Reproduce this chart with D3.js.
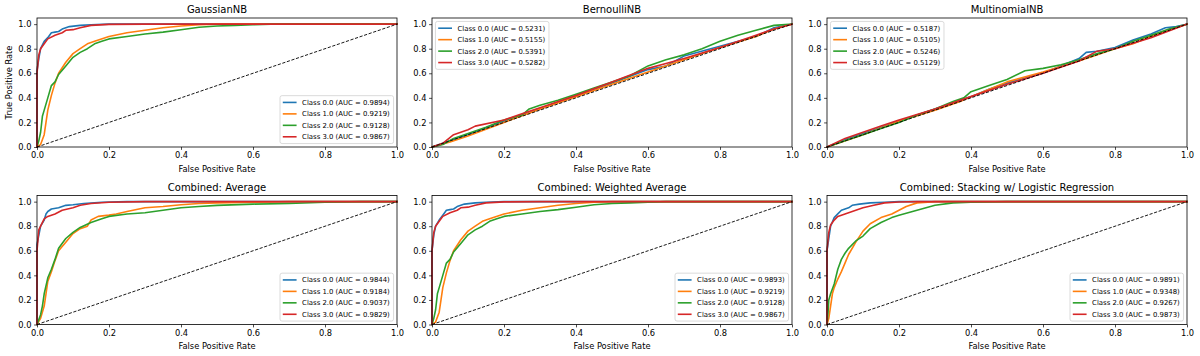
<!DOCTYPE html>
<html><head><meta charset="utf-8">
<script src="https://cdn.jsdelivr.net/npm/d3@7"></script>
<style>body{margin:0;background:#fff} svg{display:block} text{font-family:"DejaVu Sans",sans-serif;fill:#000}</style>
</head><body><svg id="c" width="1200" height="356"></svg>
<script>
// ---------- DATA ----------
const panelTitles = ["GaussianNB","BernoulliNB","MultinomialNB","Combined: Average","Combined: Weighted Average","Combined: Stacking w/ Logistic Regression"];
const classLabels = ["Class 0.0","Class 1.0","Class 2.0","Class 3.0"];
const xTicks = [0,0.2,0.4,0.6,0.8,1.0];
const yTicks = [0,0.2,0.4,0.6,0.8,1.0];
const xLabel = "False Positive Rate";
const yLabel = "True Positive Rate";
const legendPlace = ["lower right","upper left","upper left","lower right","lower right","lower right"];

const aucGaussian = [0.9894,0.9219,0.9128,0.9867];
const aucBernoulli = [0.5231,0.5155,0.5391,0.5282];
const aucMultinomial = [0.5187,0.5105,0.5246,0.5129];
const aucAverage = [0.9844,0.9184,0.9037,0.9829];
const aucWeighted = [0.9893,0.9219,0.9128,0.9867];
const aucStacking = [0.9891,0.9348,0.9267,0.9873];

// ROC curves as [fpr, tpr]
const gaussC0 = [[0,0],[0,0.62],[0.005,0.72],[0.01,0.8],[0.02,0.86],[0.03,0.89],[0.04,0.93],[0.05,0.935],[0.06,0.94],[0.07,0.96],[0.09,0.98],[0.12,0.99],[0.15,0.995],[0.2,1],[1,1]];
const gaussC1 = [[0,0],[0.01,0.02],[0.02,0.1],[0.025,0.2],[0.03,0.3],[0.04,0.42],[0.05,0.52],[0.06,0.6],[0.08,0.69],[0.1,0.76],[0.12,0.8],[0.14,0.84],[0.16,0.86],[0.2,0.9],[0.25,0.93],[0.3,0.95],[0.35,0.97],[0.4,0.985],[0.45,0.995],[0.5,1],[1,1]];
const gaussC2 = [[0,0],[0.005,0.05],[0.01,0.12],[0.015,0.25],[0.02,0.3],[0.03,0.4],[0.04,0.5],[0.05,0.53],[0.06,0.59],[0.08,0.66],[0.1,0.73],[0.12,0.77],[0.14,0.8],[0.16,0.84],[0.18,0.86],[0.2,0.88],[0.25,0.9],[0.3,0.92],[0.35,0.935],[0.4,0.955],[0.45,0.975],[0.5,0.985],[0.55,0.99],[0.6,0.995],[0.65,1],[1,1]];
const gaussC3 = [[0,0],[0,0.6],[0.005,0.75],[0.01,0.8],[0.02,0.84],[0.03,0.88],[0.05,0.91],[0.07,0.93],[0.08,0.95],[0.1,0.955],[0.12,0.97],[0.15,0.99],[0.2,0.998],[0.3,1],[1,1]];

const bernC0 = [[0,0],[0.05,0.05],[0.1,0.1],[0.2,0.21],[0.3,0.31],[0.4,0.42],[0.5,0.52],[0.6,0.63],[0.65,0.66],[0.7,0.74],[0.8,0.82],[0.9,0.9],[0.95,0.97],[1,1]];
const bernC1 = [[0,0],[0.05,0.04],[0.1,0.09],[0.2,0.2],[0.3,0.31],[0.4,0.41],[0.5,0.51],[0.6,0.61],[0.7,0.71],[0.8,0.81],[0.9,0.9],[0.95,0.96],[1,1]];
const bernC2 = [[0,0],[0.03,0.02],[0.06,0.07],[0.1,0.11],[0.15,0.16],[0.2,0.22],[0.25,0.26],[0.27,0.31],[0.3,0.34],[0.35,0.38],[0.4,0.43],[0.45,0.48],[0.5,0.53],[0.55,0.58],[0.6,0.66],[0.65,0.71],[0.7,0.75],[0.75,0.8],[0.8,0.86],[0.85,0.91],[0.9,0.95],[0.95,0.99],[1,1]];
const bernC3 = [[0,0],[0.03,0.03],[0.06,0.1],[0.1,0.14],[0.12,0.17],[0.2,0.22],[0.25,0.27],[0.3,0.32],[0.4,0.42],[0.5,0.53],[0.6,0.64],[0.65,0.68],[0.7,0.72],[0.8,0.81],[0.9,0.91],[0.95,0.96],[1,1]];

const multC0 = [[0,0],[0.05,0.06],[0.1,0.11],[0.2,0.21],[0.3,0.31],[0.4,0.41],[0.45,0.47],[0.5,0.52],[0.6,0.6],[0.7,0.72],[0.72,0.77],[0.75,0.78],[0.8,0.81],[0.85,0.87],[0.9,0.92],[0.94,0.97],[0.97,0.98],[1,1]];
const multC1 = [[0,0],[0.1,0.1],[0.2,0.21],[0.3,0.3],[0.37,0.37],[0.4,0.41],[0.5,0.53],[0.6,0.61],[0.7,0.7],[0.8,0.8],[0.85,0.84],[0.9,0.9],[1,1]];
const multC2 = [[0,0],[0.05,0.05],[0.1,0.1],[0.15,0.15],[0.2,0.2],[0.25,0.26],[0.3,0.31],[0.35,0.37],[0.38,0.4],[0.4,0.45],[0.45,0.5],[0.5,0.55],[0.55,0.62],[0.6,0.64],[0.65,0.67],[0.7,0.71],[0.75,0.76],[0.8,0.8],[0.85,0.86],[0.9,0.91],[0.95,0.96],[1,1]];
const multC3 = [[0,0],[0.05,0.07],[0.1,0.12],[0.15,0.17],[0.2,0.22],[0.3,0.31],[0.4,0.41],[0.5,0.51],[0.6,0.6],[0.7,0.7],[0.75,0.78],[0.8,0.8],[0.9,0.89],[1,1]];

const avgC0 = [[0,0],[0,0.65],[0.01,0.8],[0.02,0.85],[0.025,0.9],[0.03,0.92],[0.04,0.94],[0.06,0.95],[0.08,0.97],[0.1,0.975],[0.13,0.985],[0.18,0.995],[0.25,1],[1,1]];
const avgC1 = [[0,0],[0.01,0.05],[0.02,0.15],[0.025,0.25],[0.03,0.35],[0.04,0.43],[0.05,0.52],[0.06,0.6],[0.08,0.67],[0.1,0.74],[0.12,0.78],[0.14,0.8],[0.15,0.85],[0.17,0.88],[0.2,0.89],[0.22,0.9],[0.25,0.92],[0.3,0.95],[0.35,0.96],[0.4,0.975],[0.45,0.985],[0.5,0.99],[0.6,0.995],[0.7,1],[1,1]];
const avgC2 = [[0,0],[0.01,0.08],[0.015,0.15],[0.02,0.25],[0.03,0.38],[0.04,0.45],[0.05,0.53],[0.06,0.62],[0.08,0.7],[0.1,0.75],[0.12,0.79],[0.15,0.83],[0.18,0.86],[0.2,0.88],[0.25,0.9],[0.3,0.91],[0.35,0.93],[0.4,0.95],[0.45,0.96],[0.5,0.97],[0.6,0.98],[0.7,0.985],[0.8,0.995],[0.9,1],[1,1]];
const avgC3 = [[0,0],[0,0.6],[0.005,0.77],[0.01,0.8],[0.02,0.86],[0.03,0.88],[0.05,0.9],[0.07,0.93],[0.1,0.95],[0.12,0.97],[0.15,0.985],[0.2,0.995],[0.3,1],[1,1]];

const wavgC0 = [[0,0],[0,0.6],[0.005,0.73],[0.01,0.8],[0.02,0.85],[0.03,0.89],[0.04,0.93],[0.05,0.935],[0.06,0.94],[0.07,0.96],[0.09,0.98],[0.12,0.99],[0.15,0.995],[0.2,1],[1,1]];
const wavgC1 = [[0,0],[0.01,0.02],[0.02,0.1],[0.025,0.2],[0.03,0.3],[0.04,0.42],[0.05,0.52],[0.06,0.6],[0.08,0.69],[0.1,0.76],[0.12,0.8],[0.14,0.84],[0.16,0.86],[0.2,0.9],[0.25,0.93],[0.3,0.95],[0.35,0.97],[0.4,0.985],[0.45,0.995],[0.5,1],[1,1]];
const wavgC2 = [[0,0],[0.005,0.05],[0.01,0.12],[0.015,0.25],[0.02,0.3],[0.03,0.4],[0.04,0.5],[0.05,0.53],[0.06,0.59],[0.08,0.66],[0.1,0.73],[0.12,0.77],[0.14,0.8],[0.16,0.84],[0.18,0.86],[0.2,0.88],[0.25,0.9],[0.3,0.92],[0.35,0.935],[0.4,0.955],[0.45,0.975],[0.5,0.985],[0.55,0.99],[0.6,0.995],[0.65,1],[1,1]];
const wavgC3 = [[0,0],[0,0.6],[0.005,0.75],[0.01,0.8],[0.02,0.84],[0.03,0.88],[0.05,0.91],[0.07,0.93],[0.08,0.95],[0.1,0.955],[0.12,0.97],[0.15,0.99],[0.2,0.998],[0.3,1],[1,1]];

const stackC0 = [[0,0],[0,0.6],[0.01,0.8],[0.02,0.87],[0.03,0.9],[0.04,0.93],[0.06,0.95],[0.07,0.97],[0.09,0.98],[0.12,0.99],[0.16,0.995],[0.2,1],[1,1]];
const stackC1 = [[0,0],[0.005,0.05],[0.01,0.15],[0.015,0.25],[0.02,0.3],[0.03,0.37],[0.04,0.43],[0.05,0.5],[0.06,0.57],[0.08,0.67],[0.1,0.76],[0.12,0.82],[0.15,0.87],[0.18,0.9],[0.2,0.93],[0.22,0.96],[0.25,0.99],[0.3,1],[1,1]];
const stackC2 = [[0,0],[0.003,0.1],[0.005,0.2],[0.01,0.25],[0.02,0.33],[0.03,0.45],[0.04,0.53],[0.05,0.58],[0.06,0.62],[0.08,0.68],[0.1,0.72],[0.12,0.78],[0.15,0.83],[0.18,0.87],[0.2,0.89],[0.25,0.93],[0.3,0.97],[0.35,0.99],[0.4,0.995],[0.5,1],[1,1]];
const stackC3 = [[0,0],[0,0.6],[0.005,0.75],[0.01,0.81],[0.02,0.85],[0.03,0.88],[0.05,0.9],[0.07,0.92],[0.1,0.95],[0.13,0.97],[0.16,0.99],[0.2,0.997],[0.25,1],[1,1]];

const diagonal = [[0,0],[1,1]];

// ---------- ASSEMBLY ----------
const panels = [
  {curves:[gaussC0,gaussC1,gaussC2,gaussC3], auc:aucGaussian},
  {curves:[bernC0,bernC1,bernC2,bernC3], auc:aucBernoulli},
  {curves:[multC0,multC1,multC2,multC3], auc:aucMultinomial},
  {curves:[avgC0,avgC1,avgC2,avgC3], auc:aucAverage},
  {curves:[wavgC0,wavgC1,wavgC2,wavgC3], auc:aucWeighted},
  {curves:[stackC0,stackC1,stackC2,stackC3], auc:aucStacking}
];

const colors = ["#1f77b4","#ff7f0e","#2ca02c","#d62728"];
const svg = d3.select("#c");
const colLeft = [37, 432, 827], rowTop = [18, 195.5], W = 360, H = 129;
const tickFont = 8.3, titleFont = 10, legFont = 6.9;

panels.forEach((p, i) => {
  const gx = colLeft[i % 3], gy = rowTop[Math.floor(i / 3)];
  const g = svg.append("g").attr("transform", `translate(${gx},${gy})`);
  const x = d3.scaleLinear().domain([0, 1]).range([0, W]);
  const y = d3.scaleLinear().domain([0, 1.05]).range([H, 0]);
  const line = d3.line().x(d => x(d[0])).y(d => y(d[1]));

  const clipId = "clip" + i;
  g.append("clipPath").attr("id", clipId).append("rect").attr("x", -1).attr("y", -1).attr("width", W + 2).attr("height", H + 2);
  const plot = g.append("g").attr("clip-path", `url(#${clipId})`);

  p.curves.forEach((c, k) => {
    plot.append("path").datum(c).attr("d", line)
      .attr("fill", "none").attr("stroke", colors[k]).attr("stroke-width", 1.6)
      .attr("stroke-linejoin", "round").attr("stroke-linecap", "square");
  });
  plot.append("path").datum(diagonal).attr("d", line)
    .attr("fill", "none").attr("stroke", "#000").attr("stroke-width", 0.9)
    .attr("stroke-dasharray", "3.2,1.6");

  // axes
  const xa = g.append("g").attr("transform", `translate(0,${H})`)
    .call(d3.axisBottom(x).tickValues(xTicks).tickFormat(d3.format(".1f")).tickSize(2.9).tickPadding(2.6));
  const ya = g.append("g")
    .call(d3.axisLeft(y).tickValues(yTicks).tickFormat(d3.format(".1f")).tickSize(2.9).tickPadding(2.6));
  [xa, ya].forEach(a => {
    a.select(".domain").remove();
    a.selectAll("line").attr("stroke", "#000").attr("stroke-width", 0.7);
    a.selectAll("text").attr("font-family", "DejaVu Sans").attr("font-size", tickFont).attr("fill", "#000");
  });

  // spines
  g.append("rect").attr("x", 0).attr("y", 0).attr("width", W).attr("height", H)
    .attr("fill", "none").attr("stroke", "#000").attr("stroke-width", 0.8);

  // title & labels
  g.append("text").attr("x", W / 2).attr("y", -5).attr("text-anchor", "middle")
    .attr("font-size", titleFont).text(panelTitles[i]);
  g.append("text").attr("x", W / 2).attr("y", H + 24.5).attr("text-anchor", "middle")
    .attr("font-size", tickFont).text(xLabel);
  if (i === 0) {
    g.append("text").attr("transform", `translate(${-25},${H / 2}) rotate(-90)`)
      .attr("text-anchor", "middle").attr("font-size", tickFont).text(yLabel);
  }

  // legend
  const bp = 0.4 * legFont, hl = 2 * legFont, htp = 0.8 * legFont, ls = 0.5 * legFont, rowH = 1.16 * legFont, pad = 0.5 * legFont;
  const leg = g.append("g");
  const box = leg.append("rect").attr("rx", 2).attr("ry", 2)
    .attr("fill", "#fff").attr("fill-opacity", 0.8).attr("stroke", "#cccccc").attr("stroke-width", 0.7);
  let maxW = 0;
  classLabels.forEach((lab, k) => {
    const cy = bp + rowH / 2 + k * (rowH + ls);
    leg.append("line").attr("x1", bp).attr("x2", bp + hl).attr("y1", cy).attr("y2", cy)
      .attr("stroke", colors[k]).attr("stroke-width", 1.6);
    const t = leg.append("text").attr("x", bp + hl + htp).attr("y", cy + 0.36 * legFont)
      .attr("font-size", legFont).text(`${lab} (AUC = ${p.auc[k].toFixed(4)})`);
    maxW = Math.max(maxW, t.node().getComputedTextLength());
  });
  const bw = bp + hl + htp + maxW + bp + 1, bh = 2 * bp + 4 * rowH + 3 * ls;
  box.attr("width", bw).attr("height", bh);
  if (legendPlace[i] === "lower right") {
    leg.attr("transform", `translate(${W - pad - bw},${H - pad - bh})`);
  } else {
    leg.attr("transform", `translate(${pad},${pad})`);
  }
});
</script></body></html>
